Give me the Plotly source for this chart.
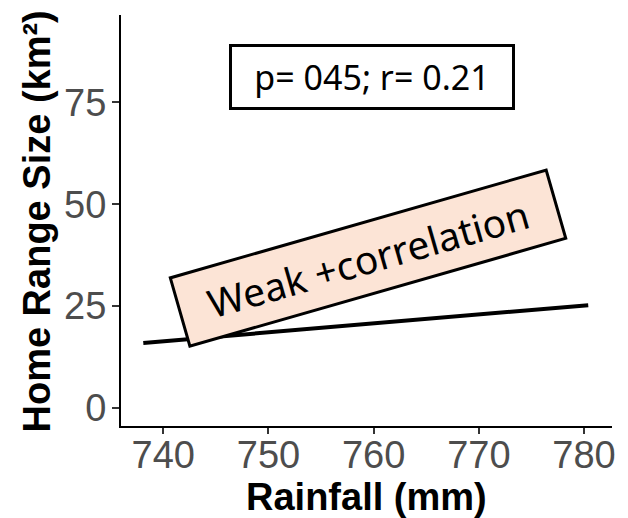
import plotly.graph_objects as go

# Fitted trend of home range size against rainfall
rainfall = [738.1, 780.4]
home_range = [15.9, 25.2]

x_ticks = [740, 750, 760, 770, 780]
y_ticks = [0, 25, 50, 75]

x_title = "<b>Rainfall (mm)</b>"
y_title = "<b>Home Range Size (km²)</b>"
stats_label = "p= 045; r= 0.21"
trend_label = "Weak +correlation"

fig = go.Figure()
fig.add_trace(go.Scatter(
    x=rainfall, y=home_range, mode="lines",
    line=dict(color="black", width=4), showlegend=False, hoverinfo="skip",
))

tick_font = dict(family="Liberation Sans, Arial, sans-serif", size=38, color="#4D4D4D")
title_font = dict(family="Liberation Sans, Arial, sans-serif", size=38, color="black")

fig.update_layout(
    width=628, height=518,
    margin=dict(l=121, r=16, t=15, b=92),
    plot_bgcolor="white", paper_bgcolor="white",
    xaxis=dict(
        range=[735.98, 782.66], tickvals=x_ticks, ticktext=[str(v) for v in x_ticks],
        showgrid=False, zeroline=False, showline=True, linecolor="black", linewidth=2,
        ticks="outside", ticklen=6, tickwidth=2, tickcolor="#333333",
        tickfont=tick_font, automargin=False, ticklabelstandoff=-12,
    ),
    yaxis=dict(
        range=[-4.5, 96.5], tickvals=y_ticks, ticktext=[str(v) for v in y_ticks],
        showgrid=False, zeroline=False, showline=True, linecolor="black", linewidth=2,
        ticks="outside", ticklen=7, tickwidth=2, tickcolor="#333333",
        tickfont=tick_font, automargin=False, ticklabelstandoff=-2,
    ),
)

# Axis titles placed as annotations relative to the plotting area
fig.add_annotation(
    x=0.5, y=-0.173, xref="paper", yref="paper", text=x_title, showarrow=False,
    xanchor="center", yanchor="middle", font=title_font,
)
fig.add_annotation(
    x=-0.171, y=0.4976, xref="paper", yref="paper", text=y_title, showarrow=False,
    textangle=-90, xanchor="center", yanchor="middle", font=title_font,
)

fig.add_annotation(
    x=759.86, y=81.25, xref="x", yref="y", text=stats_label, showarrow=False,
    font=dict(family="Noto Sans, Open Sans, sans-serif", size=34, color="black"),
    bgcolor="white", bordercolor="black", borderwidth=3, borderpad=0,
    width=280, height=60,
)

fig.add_annotation(
    x=759.5, y=36.8, xref="x", yref="y", text=trend_label, showarrow=False,
    textangle=-16,
    font=dict(family="Noto Sans, Open Sans, sans-serif", size=39, color="black"),
    bgcolor="#FCE4D6", bordercolor="black", borderwidth=3, borderpad=0,
    width=388, height=68,
)

fig.write_html("out.html")
